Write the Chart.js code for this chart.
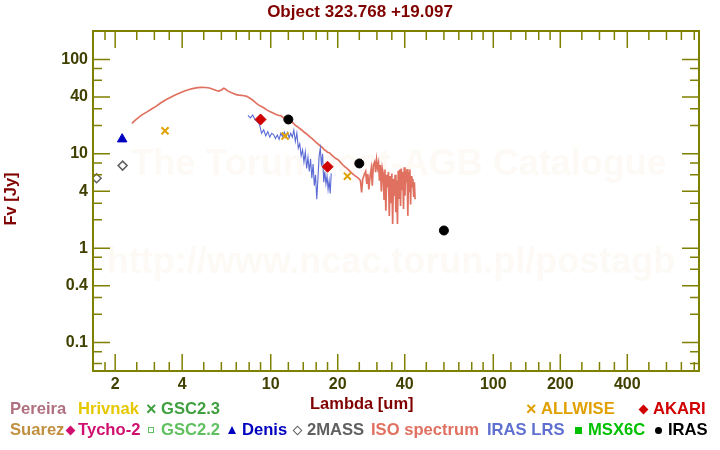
<!DOCTYPE html>
<html>
<head>
<meta charset="utf-8">
<script src="https://cdn.jsdelivr.net/npm/chart.js@4.4.1/dist/chart.umd.min.js"></script>
<style>
body { margin: 0; background: #fff; }
#wrap { position: relative; width: 720px; height: 450px; font-family: "Liberation Sans", Arial, sans-serif; font-weight: bold; }
canvas { position: absolute; left: 0; top: 0; }
.t { position: absolute; white-space: nowrap; font-size: 16.6px; line-height: 20px; }
.s { position: absolute; box-sizing: border-box; }
</style>
</head>
<body>
<div id="wrap">
  <canvas id="sed" width="720" height="450"></canvas>
  <div class="t" style="left:0;width:720px;text-align:center;top:2px;color:#800000;font-size:17px;">Object 323.768 +19.097</div>
  <div class="t" style="left:310px;top:393px;color:#800000;font-size:16.5px;">Lambda [um]</div>
  <div class="t" style="left:-22px;top:189px;width:64px;text-align:center;color:#800000;font-size:16.5px;transform:rotate(-90deg);">Fv [Jy]</div>
  <div id="legend"></div>
</div>
<script>
// ISO SWS spectrum
const isoWave = [2.38, 2.45, 2.55, 2.65, 2.78, 2.9, 3.05, 3.2, 3.35, 3.5, 3.7, 3.9, 4.1, 4.3, 4.5, 4.7, 4.9, 5.1, 5.3, 5.5,
  5.7, 5.85, 6.0, 6.15, 6.25, 6.4, 6.6, 6.8, 7.0, 7.2, 7.4, 7.6, 7.8, 8.0, 8.2, 8.4, 8.6, 8.8, 9.0, 9.3,
  9.6, 9.9, 10.2, 10.5, 10.8, 11.1, 11.4, 11.7, 12.0, 12.3, 12.6, 12.9, 13.2, 13.5, 13.8, 14.1, 14.4, 14.7, 15.0, 15.3,
  15.6, 15.9, 16.2, 16.5, 16.8, 17.1, 17.4, 17.7, 18.0, 18.4, 18.8, 19.2, 19.6, 20.0, 20.5, 21.0, 21.5, 22.0, 22.6, 23.2,
  23.8, 24.3, 24.8, 25.3, 25.6, 25.9, 26.3, 26.7, 27.0, 27.3, 27.6, 27.9, 28.3, 28.6, 28.9, 29.3, 29.6, 29.9, 30.2, 30.5,
  30.8, 31.1, 31.4, 31.7, 32.0, 32.3, 32.6, 32.9, 33.2, 33.5, 33.8, 34.1, 34.4, 34.7, 35.0, 35.3, 35.6, 35.9, 36.2, 36.5,
  36.8, 37.1, 37.4, 37.7, 38.0, 38.3, 38.6, 38.9, 39.2, 39.5, 39.8, 40.1, 40.4, 40.7, 41.0, 41.3, 41.6, 41.9, 42.2, 42.5,
  42.8, 43.1, 43.5, 43.9, 44.2, 44.5];
const isoFlux = [21.0, 22.5, 24.3, 26.0, 27.8, 29.6, 31.8, 34.5, 37.0, 39.0, 41.8, 44.0, 46.3, 48.0, 49.3, 50.2, 50.5, 50.4, 49.8, 48.3,
  46.8, 46.2, 47.5, 49.5, 48.6, 46.4, 44.8, 43.6, 42.4, 41.8, 41.5, 41.2, 40.6, 39.2, 37.8, 36.2, 34.5, 33.0, 32.0, 30.8,
  29.2, 28.0, 27.2, 26.3, 25.6, 25.4, 24.0, 24.4, 22.8, 22.0, 21.2, 20.0, 19.4, 18.5, 17.9, 17.0, 16.4, 15.8, 15.1, 14.6,
  14.0, 13.4, 12.9, 12.4, 12.0, 11.6, 11.0, 10.8, 10.4, 10.2, 9.7, 9.3, 8.9, 8.7, 8.2, 7.7, 7.3, 7.0, 6.6, 6.2,
  5.9, 5.7, 5.5, 5.2, 3.9, 5.4, 6.0, 6.5, 4.8, 6.1, 4.2, 5.6, 7.0, 4.6, 7.6, 8.2, 6.4, 8.6, 7.1, 8.0,
  5.2, 7.6, 4.0, 7.0, 6.2, 3.3, 6.8, 2.5, 6.0, 4.4, 6.4, 2.2, 5.8, 3.0, 6.2, 1.8, 5.4, 3.6, 6.0, 2.4,
  5.2, 1.8, 6.6, 3.4, 6.8, 2.8, 7.0, 4.2, 6.4, 2.6, 7.2, 3.6, 6.6, 5.0, 6.9, 2.2, 6.4, 4.0, 6.8, 2.9,
  5.8, 4.4, 5.4, 3.5, 5.0, 3.3];

// IRAS LRS spectrum
const lrsWave = [7.9, 8.1, 8.3, 8.5, 8.7, 8.9, 9.1, 9.3, 9.5, 9.7, 9.9, 10.1, 10.3, 10.5, 10.7, 10.9, 11.1, 11.3, 11.5, 11.7,
  11.9, 12.1, 12.3, 12.5, 12.7, 12.9, 13.1, 13.3, 13.5, 13.7, 13.9, 14.1, 14.3, 14.5, 14.7, 14.9, 15.1, 15.3, 15.5, 15.7,
  15.9, 16.1, 16.3, 16.5, 16.7, 16.9, 17.1, 17.3, 17.5, 17.7, 17.9, 18.1, 18.3, 18.5, 18.7];
const lrsFlux = [25.5, 24.0, 25.8, 23.0, 22.0, 20.5, 16.5, 18.0, 15.5, 17.2, 15.0, 16.5, 16.0, 14.5, 15.8, 14.2, 16.5, 15.2, 17.0, 15.0,
  16.8, 14.8, 16.5, 15.0, 17.8, 13.5, 16.6, 11.5, 12.8, 9.5, 11.0, 8.2, 10.5, 7.0, 9.2, 6.5, 8.8, 5.5, 7.8, 4.6,
  6.0, 3.3, 5.5, 9.5, 11.5, 7.5, 10.0, 5.0, 6.5, 4.8, 5.8, 4.2, 5.2, 3.8, 6.2];

// photometry
const twomassWave = [1.65, 2.16];
const twomassFlux = [5.5, 7.5];
const denisWave = [2.15];
const denisFlux = [14.3];
const allwiseWave = [3.35, 11.6, 22.1];
const allwiseFlux = [17.5, 15.4, 5.8];
const akariWave = [9, 18];
const akariFlux = [23.1, 7.3];
const irasWave = [12, 25, 60];
const irasFlux = [23.1, 7.9, 1.54];

// axes
const xMajor = [2, 4, 10, 20, 40, 100, 200, 400];
const xMinor = [1.8, 2.5, 3, 3.5, 5, 6, 7, 8, 9, 12, 14, 16, 18, 25, 30, 35, 50, 60, 70, 80, 90,
  120, 140, 160, 180, 250, 300, 350, 500, 600, 700, 800];
const yMajor = [0.1, 0.4, 1, 4, 10, 40, 100];
const yMinor = [0.06, 0.08, 0.2, 0.3, 0.6, 0.8, 2, 3, 6, 8, 20, 30, 60, 80];

const axisColor = '#808000';
const labelColor = '#404000';

function pts(xs, ys) {
  return xs.map((x, i) => ({ x: x, y: ys[i] }));
}

// legend entries: text, colour, left, row, marker
const legendItems = [
  ['Pereira', '#b07080', 10, 0, null],
  ['Hrivnak', '#e6c800', 78, 0, null],
  ['GSC2.3', '#40a040', 147, 0, 'x'],
  ['ALLWISE', '#e0a000', 527, 0, 'x'],
  ['AKARI', '#d00000', 639, 0, 'diamond'],
  ['Suarez', '#c09040', 10, 1, null],
  ['Tycho-2', '#d01070', 66, 1, 'diamond'],
  ['GSC2.2', '#60c060', 147, 1, 'osquare'],
  ['Denis', '#0000c0', 228, 1, 'triangle'],
  ['2MASS', '#606060', 293, 1, 'odiamond'],
  ['ISO spectrum', '#e07060', 371, 1, null],
  ['IRAS LRS', '#6070d0', 487, 1, null],
  ['MSX6C', '#00c000', 574, 1, 'square'],
  ['IRAS', '#000000', 654, 1, 'circle']
];

const legend = document.getElementById('legend');
legendItems.forEach(([text, color, left, row, marker]) => {
  const top = row === 0 ? 399 : 420;
  let textLeft = left;
  if (marker) {
    const m = document.createElement('div');
    m.className = 's';
    const cy = top + 10;
    if (marker === 'x') {
      m.textContent = '\u00d7';
      m.style.cssText = `left:${left - 1}px;top:${top}px;color:${color};font-size:18px;line-height:20px;`;
    } else if (marker === 'diamond' || marker === 'odiamond') {
      m.style.cssText = `left:${left + 1}px;top:${cy - 3.5}px;width:7px;height:7px;transform:rotate(45deg);` +
        (marker === 'diamond' ? `background:${color};` : `border:1.5px solid ${color};`);
    } else if (marker === 'osquare') {
      m.style.cssText = `left:${left + 1}px;top:${cy - 3}px;width:6px;height:6px;border:1.5px solid ${color};`;
    } else if (marker === 'square') {
      m.style.cssText = `left:${left + 1}px;top:${cy - 3.5}px;width:7px;height:7px;background:${color};`;
    } else if (marker === 'circle') {
      m.style.cssText = `left:${left + 1}px;top:${cy - 3.5}px;width:7px;height:7px;border-radius:50%;background:${color};`;
    } else if (marker === 'triangle') {
      m.style.cssText = `left:${left}px;top:${cy - 4}px;width:0;height:0;border-left:4.5px solid transparent;` +
        `border-right:4.5px solid transparent;border-bottom:8px solid ${color};`;
    }
    legend.appendChild(m);
    textLeft = left + (marker === 'diamond' && text === 'Tycho-2' ? 12 : 14);
  }
  const t = document.createElement('div');
  t.className = 't';
  t.textContent = text;
  t.style.cssText = `left:${textLeft}px;top:${top}px;color:${color};`;
  legend.appendChild(t);
});

const frame = {
  id: 'frame',
  beforeDatasetsDraw(chart) {
    const ctx = chart.ctx;
    ctx.save();
    ctx.font = 'bold 36px "Liberation Sans", Arial, sans-serif';
    ctx.fillStyle = '#fdfaf6';
    ctx.textAlign = 'center';
    ctx.fillText('The Torun post-AGB Catalogue', 399, 175);
    ctx.fillText('http://www.ncac.torun.pl/postagb', 391, 273);
    ctx.restore();
  },
  afterDatasetsDraw(chart) {
    const { ctx, chartArea: a, scales } = chart;
    ctx.save();
    ctx.strokeStyle = axisColor;
    ctx.lineWidth = 1.5;
    ctx.beginPath();
    const tx = (v, len) => {
      const p = scales.x.getPixelForValue(v);
      ctx.moveTo(p, a.bottom); ctx.lineTo(p, a.bottom - len);
      ctx.moveTo(p, a.top); ctx.lineTo(p, a.top + len);
    };
    const ty = (v, len) => {
      const p = scales.y.getPixelForValue(v);
      ctx.moveTo(a.left, p); ctx.lineTo(a.left + len, p);
      ctx.moveTo(a.right, p); ctx.lineTo(a.right - len, p);
    };
    xMajor.forEach(v => tx(v, 17));
    xMinor.forEach(v => tx(v, 9));
    yMajor.forEach(v => ty(v, 17));
    yMinor.forEach(v => ty(v, 9));
    ctx.stroke();
    ctx.lineWidth = 2;
    ctx.strokeRect(a.left, a.top, a.right - a.left, a.bottom - a.top);
    ctx.restore();
  }
};

const tickFont = { family: '"Liberation Sans", Arial, sans-serif', size: 16, weight: 'bold' };

new Chart(document.getElementById('sed'), {
  type: 'scatter',
  data: {
    datasets: [
      { label: 'IRAS', data: pts(irasWave, irasFlux), pointStyle: 'circle', pointRadius: 4.5,
        backgroundColor: '#000', borderColor: '#000', borderWidth: 1, order: 1 },
      { label: 'AKARI', data: pts(akariWave, akariFlux), pointStyle: 'rectRot', pointRadius: 5.5,
        backgroundColor: '#d00000', borderColor: '#d00000', borderWidth: 1, order: 2 },
      { label: 'ALLWISE', data: pts(allwiseWave, allwiseFlux), pointStyle: 'crossRot', pointRadius: 5,
        borderColor: '#e0a000', borderWidth: 2, order: 3 },
      { label: 'Denis', data: pts(denisWave, denisFlux), pointStyle: 'triangle', pointRadius: 5.5,
        backgroundColor: '#0000c0', borderColor: '#0000c0', borderWidth: 1, order: 4 },
      { label: '2MASS', data: pts(twomassWave, twomassFlux), pointStyle: 'rectRot', pointRadius: 4.5,
        backgroundColor: '#fff', borderColor: '#606060', borderWidth: 1.5, order: 5 },
      { label: 'IRAS LRS', data: pts(lrsWave, lrsFlux), showLine: true, pointRadius: 0,
        borderColor: '#5a6ad4', borderWidth: 1.1, order: 6 },
      { label: 'ISO spectrum', data: pts(isoWave, isoFlux), showLine: true, pointRadius: 0,
        borderColor: '#e07060', borderWidth: 1.7, order: 7 }
    ]
  },
  options: {
    responsive: false,
    animation: false,
    events: [],
    layout: { padding: { left: 0, top: 31, right: 21, bottom: 55 } },
    plugins: { legend: { display: false }, tooltip: { enabled: false }, title: { display: false } },
    scales: {
      x: {
        type: 'logarithmic', min: 1.59, max: 840,
        afterBuildTicks: s => { s.ticks = xMajor.map(v => ({ value: v })); },
        afterFit: s => { s.height = 24; },
        grid: { display: false, drawTicks: false },
        border: { display: false },
        ticks: { autoSkip: false, maxRotation: 0, padding: 4, color: labelColor, font: tickFont,
          callback: v => String(v) }
      },
      y: {
        type: 'logarithmic', min: 0.05, max: 200,
        afterBuildTicks: s => { s.ticks = yMajor.map(v => ({ value: v })); },
        afterFit: s => { s.width = 93; },
        grid: { display: false, drawTicks: false },
        border: { display: false },
        ticks: { autoSkip: false, padding: 5, color: labelColor, font: tickFont,
          callback: v => String(v) }
      }
    }
  },
  plugins: [frame]
});
</script>
</body>
</html>
